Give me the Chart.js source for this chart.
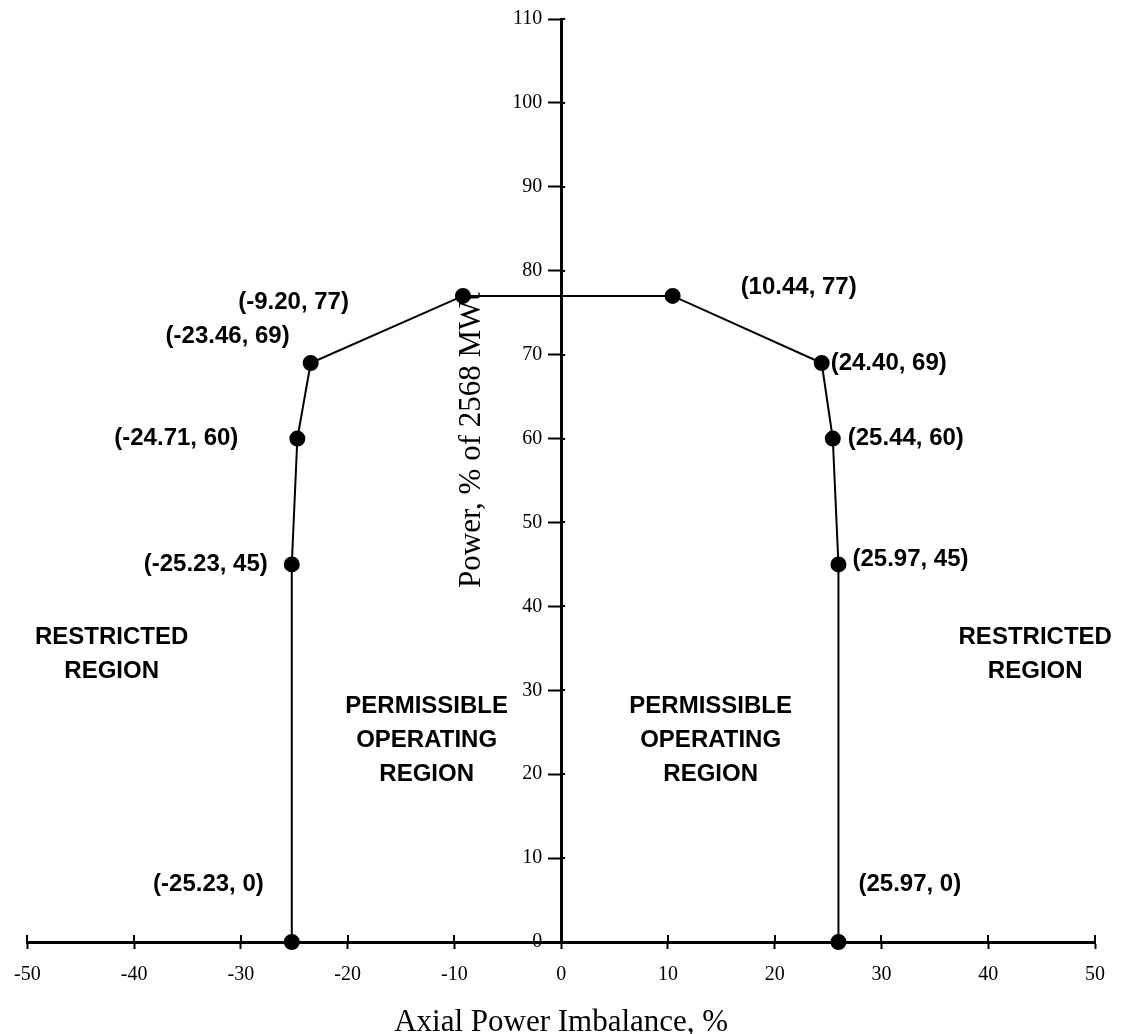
<!DOCTYPE html>
<html>
<head>
<meta charset="utf-8">
<script src="https://cdn.jsdelivr.net/npm/chart.js@4/dist/chart.umd.min.js"></script>
<style>
	body { margin: 0; background: #fff; }
</style>
</head>
<body>
<canvas id="myChart" width="1128" height="1034"></canvas>
<script>
//Envelope points
let imbalance = [-25.23, -25.23, -24.71, -23.46, -9.2, 10.44, 24.4, 25.44, 25.97, 25.97]
let power = [0, 45, 60, 69, 77, 77, 69, 60, 45, 0]

//tick labels
let xTicks = [-50, -40, -30, -20, -10, 0, 10, 20, 30, 40, 50]
let yTicks = [0, 10, 20, 30, 40, 50, 60, 70, 80, 90, 100, 110]

//region text
let restrictedText = ['RESTRICTED', 'REGION']
let permissibleText = ['PERMISSIBLE', 'OPERATING', 'REGION']
let yTitle = 'Power, % of 2568 MWt'
let xTitle = 'Axial Power Imbalance, %'

let points = imbalance.map((x, i) => ({ x: x, y: power[i] }))

//where each coordinate label sits relative to its point (pixels)
let labelPlace = [
	[-28, -58, 'right'],
	[-24, 0, 'right'],
	[-59, 0, 'right'],
	[-21, -27, 'right'],
	[-114, 6, 'right'],
	[68, -9, 'left'],
	[9, 0, 'left'],
	[15, 0, 'left'],
	[14, -5, 'left'],
	[20, -58, 'left']
]

let textPlugin = {
	id: 'textPlugin',
	afterDraw(chart) {
		let ctx = chart.ctx
		let xs = chart.scales.x
		let ys = chart.scales.y
		let area = chart.chartArea
		ctx.save()
		//tick marks cross the axis lines a little
		ctx.strokeStyle = '#000'
		ctx.lineWidth = 2
		ctx.beginPath()
		xs.ticks.forEach((t) => {
			let px = Math.round(xs.getPixelForValue(t.value))
			ctx.moveTo(px, area.bottom - 7)
			ctx.lineTo(px, area.bottom)
		})
		let x0 = xs.getPixelForValue(0)
		ys.ticks.forEach((t) => {
			let py = Math.round(ys.getPixelForValue(t.value))
			ctx.moveTo(x0, py)
			ctx.lineTo(x0 + 4, py)
		})
		ctx.stroke()

		ctx.fillStyle = '#000'
		ctx.font = 'bold 24px "Liberation Sans", Arial, sans-serif'
		ctx.textBaseline = 'middle'
		points.forEach((p, i) => {
			let txt = '(' + p.x.toFixed(2) + ', ' + p.y + ')'
			let pl = labelPlace[i]
			ctx.textAlign = pl[2]
			ctx.fillText(txt, xs.getPixelForValue(p.x) + pl[0], ys.getPixelForValue(p.y) + pl[1])
		})
		//region names
		ctx.textAlign = 'center'
		let block = (lines, xv, yv) => {
			lines.forEach((t, k) => {
				ctx.fillText(t, xs.getPixelForValue(xv), ys.getPixelForValue(yv) + k * 34)
			})
		}
		block(restrictedText, -42.1, 36.3)
		block(restrictedText, 44.4, 36.3)
		block(permissibleText, -12.6, 28.1)
		block(permissibleText, 14.0, 28.1)
		//y axis title, rotated
		ctx.font = '31px "Liberation Serif", "Times New Roman", serif'
		ctx.translate(472, 440)
		ctx.rotate(-Math.PI / 2)
		ctx.fillText(yTitle, 0, 0)
		ctx.restore()
	}
}

let serif = { family: '"Liberation Serif", "Times New Roman", serif', size: 20 }

let config = {
	type: 'scatter',
	data: {
		datasets: [
			{
				data: points,
				showLine: true,
				borderColor: '#000',
				borderWidth: 2,
				pointRadius: 7,
				pointBackgroundColor: '#000',
				pointBorderColor: '#000',
				clip: false
			}
		]
	},
	options: {
		responsive: false,
		animation: false,
		devicePixelRatio: 1,
		layout: { padding: { left: 25, right: 33, top: 17, bottom: 0 } },
		plugins: {
			legend: { display: false },
			tooltip: { enabled: false }
		},
		scales: {
			x: {
				type: 'linear',
				position: 'bottom',
				min: -50,
				max: 50,
				afterBuildTicks: (s) => {
					s.ticks = xTicks.map((v) => ({ value: v }))
				},
				afterFit: (s) => {
					s.height = 92
				},
				ticks: { color: '#000', font: serif, padding: 14, maxRotation: 0 },
				grid: { drawOnChartArea: false, tickLength: 7, tickWidth: 2, tickColor: '#000' },
				border: { color: '#000', width: 3 },
				title: {
					display: true,
					text: xTitle,
					color: '#000',
					font: { family: serif.family, size: 31 },
					padding: { top: 0, bottom: -7 }
				}
			},
			y: {
				type: 'linear',
				position: 'center',
				min: 0,
				max: 110,
				afterBuildTicks: (s) => {
					s.ticks = yTicks.map((v) => ({ value: v }))
				},
				ticks: { color: '#000', font: serif, padding: 7 },
				grid: { drawOnChartArea: false, tickLength: 12, tickWidth: 2, tickColor: '#000' },
				border: { color: '#000', width: 3 }
			}
		}
	},
	plugins: [textPlugin]
}

let chart = new Chart(document.getElementById('myChart').getContext('2d'), config)
</script>
</body>
</html>
